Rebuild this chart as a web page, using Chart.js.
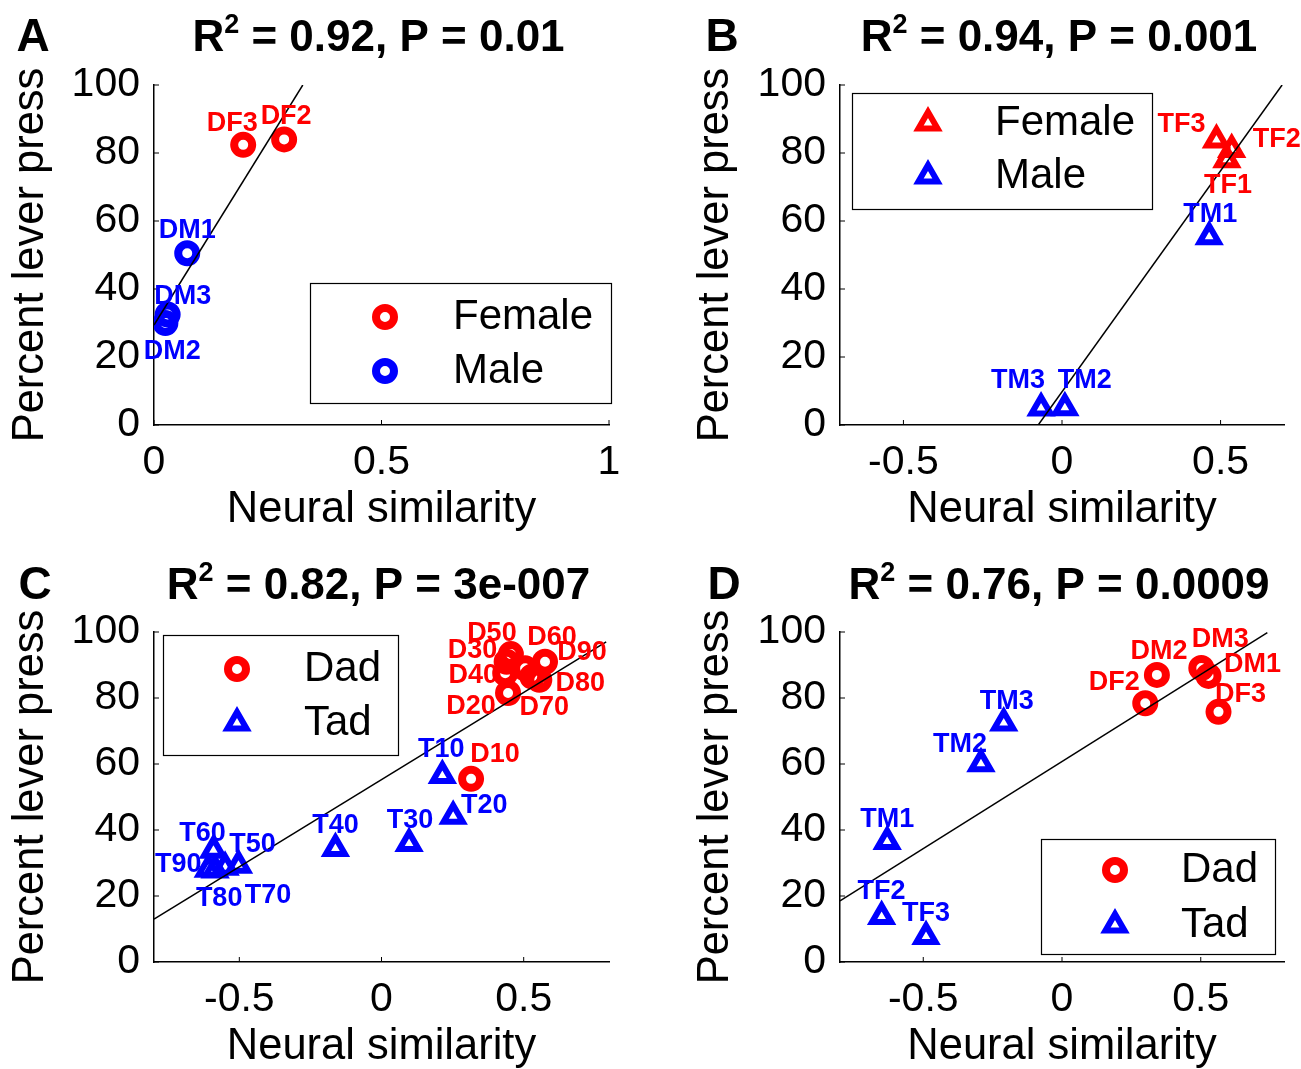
<!DOCTYPE html>
<html>
<head>
<meta charset="utf-8">
<script src="https://cdn.jsdelivr.net/npm/chart.js@4.4.0/dist/chart.umd.min.js"></script>
<style>
  body { margin: 0; background: #fff; width: 1301px; height: 1069px; overflow: hidden; position: relative; }
  canvas { position: absolute; }
</style>
</head>
<body>
<canvas id="chartA" width="650" height="540" style="left:0;top:0"></canvas>
<canvas id="chartB" width="651" height="540" style="left:650px;top:0"></canvas>
<canvas id="chartC" width="650" height="529" style="left:0;top:540px"></canvas>
<canvas id="chartD" width="651" height="529" style="left:650px;top:540px"></canvas>
<script>
const RED = '#ff0000';
const BLUE = '#0000ff';
const FONT = "'Liberation Sans', Arial, Helvetica, sans-serif";

// A - Dad, female vs male
const aFemaleNames = ['DF3', 'DF2'];
const aFemaleX = [0.196, 0.286];
const aFemaleY = [82.4, 84.0];
const aMaleNames = ['DM1', 'DM3', 'DM2'];
const aMaleX = [0.073, 0.030, 0.025];
const aMaleY = [50.5, 32.5, 30.0];
const aFitX = [0, 0.327];
const aFitY = [29.4, 100];
const aXTicks = [0, 0.5, 1];

// B - Tad, female vs male
const bFemaleNames = ['TF3', 'TF2', 'TF1'];
const bFemaleX = [0.487, 0.535, 0.52];
const bFemaleY = [83.8, 81.0, 78.0];
const bMaleNames = ['TM1', 'TM3', 'TM2'];
const bMaleX = [0.464, -0.066, 0.009];
const bMaleY = [55.4, 5.0, 5.1];
const bFitX = [-0.075, 0.694];
const bFitY = [0, 100];
const bXTicks = [-0.5, 0, 0.5];

// C - Dad vs Tad, by day
const cDadNames = ['D10', 'D20', 'D30', 'D40', 'D50', 'D60', 'D70', 'D80', 'D90'];
const cDadX = [0.315, 0.445, 0.44, 0.435, 0.455, 0.505, 0.53, 0.555, 0.575];
const cDadY = [55.5, 81.5, 91.0, 87.5, 93.3, 89.0, 86.5, 85.5, 91.0];
const cTadNames = ['T10', 'T20', 'T30', 'T40', 'T50', 'T60', 'T70', 'T80', 'T90'];
const cTadX = [0.214, 0.252, 0.097, -0.162, -0.503, -0.591, -0.55, -0.585, -0.609];
const cTadY = [56.5, 44.2, 35.9, 34.4, 29.3, 33.9, 28.7, 27.9, 28.1];
const cFitX = [-0.8, 0.79];
const cFitY = [13.0, 97.0];
const cXTicks = [-0.5, 0, 0.5];

// D - Dad vs Tad, by animal
const dDadNames = ['DF2', 'DM2', 'DM3', 'DM1', 'DF3'];
const dDadX = [0.30, 0.342, 0.502, 0.528, 0.564];
const dDadY = [78.4, 87.0, 89.1, 86.7, 75.8];
const dTadNames = ['TM3', 'TM2', 'TM1', 'TF2', 'TF3'];
const dTadX = [-0.21, -0.292, -0.63, -0.65, -0.49];
const dTadY = [72.4, 60.1, 36.5, 13.8, 7.7];
const dFitX = [-0.8, 0.74];
const dFitY = [18.5, 99.8];
const dXTicks = [-0.5, 0, 0.5];

const yTicks = [0, 20, 40, 60, 80, 100];

// where each point's name sits, in pixels from the marker
const offA = { DF3: [-11, -21], DF2: [2, -23], DM1: [0, -23], DM3: [15, -18], DM2: [7, 29] };
const offB = { TF3: [-35, -16], TF2: [45, -10], TF1: [1, 26], TM1: [1, -22], TM3: [-23, -27], TM2: [20, -27] };
const offC = {
  D10: [24, -24], D20: [-37, 13], D30: [-34, -11], D40: [-32, 2], D50: [-19, -21],
  D60: [27, -31], D70: [12, 31], D80: [41, 4], D90: [37, -9],
  T10: [-1, -26], T20: [31, -11], T30: [1, -23], T40: [0, -23], T50: [14, -21],
  T60: [-11, -17], T70: [43, 28], T80: [4, 29], T90: [-30, -5]
};
const offD = {
  DM2: [2, -23], DM3: [19, -28], DM1: [44, -11], DF2: [-31, -21], DF3: [22, -17],
  TM3: [3, -22], TM2: [-21, -19], TM1: [0, -22], TF2: [0, -25], TF3: [0, -23]
};

const panels = [
  {
    id: 'chartA', letter: 'A', r2: '0.92', p: '0.01', xMin: 0, xMax: 1, xTicks: aXTicks,
    groups: [
      { name: 'Female', names: aFemaleNames, x: aFemaleX, y: aFemaleY, color: RED, marker: 'circle' },
      { name: 'Male', names: aMaleNames, x: aMaleX, y: aMaleY, color: BLUE, marker: 'circle' }
    ],
    fitX: aFitX, fitY: aFitY, offsets: offA,
    pad: { left: 0, top: 85, right: 41 }, yWidth: 154, xHeight: 115, xTitlePad: 8,
    letterX: 33, baseline: 51,
    legend: { box: [310, 283, 301, 120], markX: 385, textX: 453, rows: [317, 371] }
  },
  {
    id: 'chartB', letter: 'B', r2: '0.94', p: '0.001', xMin: -0.7, xMax: 0.7, xTicks: bXTicks,
    groups: [
      { name: 'Female', names: bFemaleNames, x: bFemaleX, y: bFemaleY, color: RED, marker: 'triangle' },
      { name: 'Male', names: bMaleNames, x: bMaleX, y: bMaleY, color: BLUE, marker: 'triangle' }
    ],
    fitX: bFitX, fitY: bFitY, offsets: offB,
    pad: { left: 35, top: 85, right: 15 }, yWidth: 155, xHeight: 115, xTitlePad: 8,
    letterX: 72, baseline: 51,
    legend: { box: [202, 93, 300, 116], markX: 278, textX: 345, rows: [123, 176] }
  },
  {
    id: 'chartC', letter: 'C', r2: '0.82', p: '3e-007', xMin: -0.8, xMax: 0.8, xTicks: cXTicks,
    groups: [
      { name: 'Dad', names: cDadNames, x: cDadX, y: cDadY, color: RED, marker: 'circle' },
      { name: 'Tad', names: cTadNames, x: cTadX, y: cTadY, color: BLUE, marker: 'triangle' }
    ],
    fitX: cFitX, fitY: cFitY, offsets: offC,
    pad: { left: 0, top: 92, right: 41 }, yWidth: 154, xHeight: 107, xTitlePad: 0,
    letterX: 35, baseline: 59,
    legend: { box: [163, 95, 235, 120], markX: 237, textX: 304, rows: [129, 183] }
  },
  {
    id: 'chartD', letter: 'D', r2: '0.76', p: '0.0009', xMin: -0.8, xMax: 0.8, xTicks: dXTicks,
    groups: [
      { name: 'Dad', names: dDadNames, x: dDadX, y: dDadY, color: RED, marker: 'circle' },
      { name: 'Tad', names: dTadNames, x: dTadX, y: dTadY, color: BLUE, marker: 'triangle' }
    ],
    fitX: dFitX, fitY: dFitY, offsets: offD,
    pad: { left: 35, top: 92, right: 15 }, yWidth: 155, xHeight: 107, xTitlePad: 0,
    letterX: 74, baseline: 59,
    legend: { box: [391, 299, 234, 115], markX: 465, textX: 531, rows: [330, 385] }
  }
];

function markerOpts(marker) {
  return marker === 'circle'
    ? { pointStyle: 'circle', radius: 9, borderWidth: 8, rotation: 0 }
    : { pointStyle: 'triangle', radius: 11, borderWidth: 6, rotation: 0 };
}

function makeDecor(p) {
  return {
    id: 'decor' + p.letter,
    afterDatasetsDraw(chart) {
      const { ctx, chartArea: area, scales: { x, y } } = chart;
      ctx.save();

      // inward tick marks, like matlab
      ctx.strokeStyle = '#000';
      ctx.lineWidth = 1;
      ctx.beginPath();
      x.ticks.forEach(t => {
        const px = x.getPixelForValue(t.value);
        ctx.moveTo(px, area.bottom);
        ctx.lineTo(px, area.bottom - 5);
      });
      y.ticks.forEach(t => {
        const py = y.getPixelForValue(t.value);
        ctx.moveTo(area.left, py);
        ctx.lineTo(area.left + 5, py);
      });
      ctx.stroke();

      // point names
      ctx.font = 'bold 27px ' + FONT;
      ctx.textAlign = 'center';
      ctx.textBaseline = 'middle';
      p.groups.forEach(g => {
        ctx.fillStyle = g.color;
        g.names.forEach((n, i) => {
          const off = p.offsets[n] || [0, -22];
          ctx.fillText(n, x.getPixelForValue(g.x[i]) + off[0], y.getPixelForValue(g.y[i]) + off[1]);
        });
      });

      // legend box
      const L = p.legend;
      ctx.fillStyle = '#fff';
      ctx.fillRect(L.box[0], L.box[1], L.box[2], L.box[3]);
      ctx.strokeStyle = '#000';
      ctx.lineWidth = 1.2;
      ctx.strokeRect(L.box[0] + 0.5, L.box[1] + 0.5, L.box[2], L.box[3]);
      p.groups.forEach((g, i) => {
        const m = markerOpts(g.marker);
        ctx.strokeStyle = g.color;
        ctx.lineWidth = m.borderWidth;
        ctx.fillStyle = 'rgba(0,0,0,0)';
        Chart.helpers.drawPoint(ctx, m, L.markX, L.rows[i]);
        ctx.fillStyle = '#000';
        ctx.font = '42px ' + FONT;
        ctx.textAlign = 'left';
        ctx.textBaseline = 'middle';
        ctx.fillText(g.name, L.textX, L.rows[i]);
      });

      // panel letter
      ctx.fillStyle = '#000';
      ctx.textBaseline = 'alphabetic';
      ctx.textAlign = 'center';
      ctx.font = 'bold 46px ' + FONT;
      ctx.fillText(p.letter, p.letterX, p.baseline);

      // title R^2 = .., P = ..
      const big = 'bold 44px ' + FONT;
      const small = 'bold 27px ' + FONT;
      const rest = ' = ' + p.r2 + ', P = ' + p.p;
      ctx.font = big;
      const wR = ctx.measureText('R').width;
      const wRest = ctx.measureText(rest).width;
      ctx.font = small;
      const w2 = ctx.measureText('2').width;
      let tx = (area.left + area.right) / 2 - (wR + w2 + wRest) / 2 - 3;
      ctx.textAlign = 'left';
      ctx.font = big;
      ctx.fillText('R', tx, p.baseline);
      tx += wR;
      ctx.font = small;
      ctx.fillText('2', tx, p.baseline - 18);
      tx += w2;
      ctx.font = big;
      ctx.fillText(rest, tx, p.baseline);

      ctx.restore();
    }
  };
}

panels.forEach(p => {
  const datasets = [{
    type: 'line',
    data: p.fitX.map((v, i) => ({ x: v, y: p.fitY[i] })),
    borderColor: '#000',
    borderWidth: 1.5,
    pointRadius: 0,
    fill: false,
    order: 0
  }];
  p.groups.forEach(g => {
    const m = markerOpts(g.marker);
    datasets.push({
      type: 'scatter',
      label: g.name,
      data: g.x.map((v, i) => ({ x: v, y: g.y[i] })),
      pointStyle: m.pointStyle,
      pointRadius: m.radius,
      pointBorderWidth: m.borderWidth,
      borderColor: g.color,
      backgroundColor: 'rgba(0,0,0,0)',
      order: 1
    });
  });

  new Chart(document.getElementById(p.id), {
    type: 'scatter',
    data: { datasets },
    plugins: [makeDecor(p)],
    options: {
      responsive: false,
      animation: false,
      devicePixelRatio: 1,
      layout: { padding: { left: p.pad.left, top: p.pad.top, right: p.pad.right, bottom: 0 } },
      plugins: { legend: { display: false }, tooltip: { enabled: false } },
      scales: {
        x: {
          type: 'linear',
          min: p.xMin,
          max: p.xMax,
          afterBuildTicks: s => { s.ticks = p.xTicks.map(v => ({ value: v })); },
          afterFit: s => { s.height = p.xHeight; },
          grid: { display: false, drawTicks: false },
          border: { display: true, color: '#000', width: 1.5 },
          ticks: { font: { family: FONT, size: 41 }, color: '#000', padding: 13, autoSkip: false, maxRotation: 0, callback: v => String(v) },
          title: { display: true, text: 'Neural similarity', color: '#000', font: { family: FONT, size: 43.5, lineHeight: 1 }, padding: { top: 0, bottom: p.xTitlePad } }
        },
        y: {
          type: 'linear',
          min: 0,
          max: 100,
          afterBuildTicks: s => { s.ticks = yTicks.map(v => ({ value: v })); },
          afterFit: s => { s.width = p.yWidth; },
          grid: { display: false, drawTicks: false },
          border: { display: true, color: '#000', width: 1.5 },
          ticks: { font: { family: FONT, size: 41 }, color: '#000', padding: 14, autoSkip: false, callback: v => String(v) },
          title: { display: true, text: 'Percent lever press', color: '#000', font: { family: FONT, size: 43.5, lineHeight: 1 }, padding: { top: 9, bottom: 0 } }
        }
      }
    }
  });
});
</script>
</body>
</html>
